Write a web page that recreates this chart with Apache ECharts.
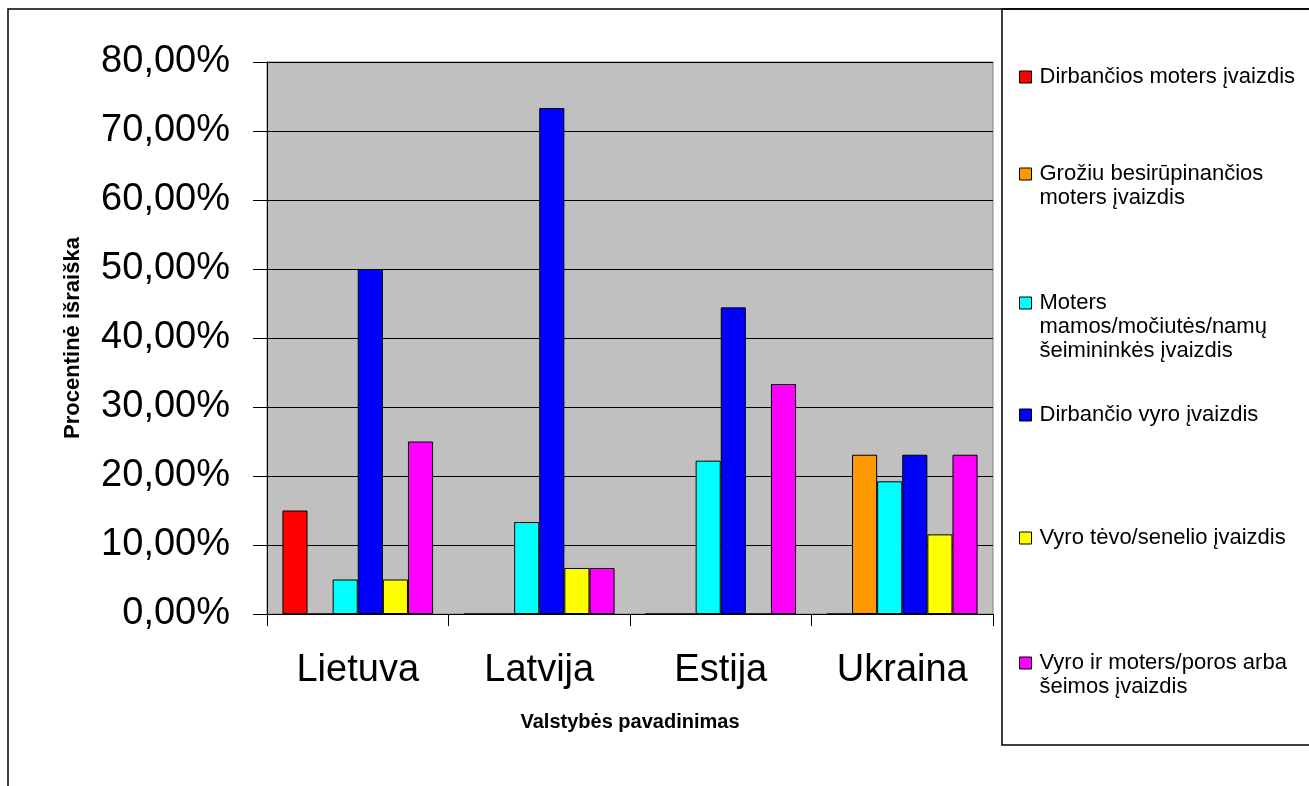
<!DOCTYPE html>
<html>
<head>
<meta charset="utf-8">
<script src="https://cdn.jsdelivr.net/npm/echarts@6/dist/echarts.min.js"></script>
<style>
  html, body { margin: 0; padding: 0; background: #ffffff; }
  #chart { width: 1309px; height: 786px; }
</style>
</head>
<body>
<div id="chart"></div>
<script>
// Countries on the category axis
const categories = ['Lietuva', 'Latvija', 'Estija', 'Ukraina'];

// Series names (one per image type) and their display text in the legend
const seriesNames = [
  'Dirbančios moters įvaizdis',
  'Grožiu besirūpinančios moters įvaizdis',
  'Moters mamos/močiutės/namų šeimininkės įvaizdis',
  'Dirbančio vyro įvaizdis',
  'Vyro tėvo/senelio įvaizdis',
  'Vyro ir moters/poros arba šeimos įvaizdis'
];
const legendLines = [
  ['Dirbančios moters įvaizdis'],
  ['Grožiu besirūpinančios', 'moters įvaizdis'],
  ['Moters', 'mamos/močiutės/namų', 'šeimininkės įvaizdis'],
  ['Dirbančio vyro įvaizdis'],
  ['Vyro tėvo/senelio įvaizdis'],
  ['Vyro ir moters/poros arba', 'šeimos įvaizdis']
];
const seriesColors = ['#FF0000', '#FF9900', '#00FFFF', '#0000FF', '#FFFF00', '#FF00FF'];

// Percentages per country, one array per series
const workingWoman    = [15.00, 0.00, 0.00, 0.00];
const beautyWoman     = [0.00, 0.00, 0.00, 23.08];
const motherHousewife = [5.00, 13.33, 22.22, 19.23];
const workingMan      = [50.00, 73.33, 44.44, 23.08];
const fatherGrandpa   = [5.00, 6.67, 0.00, 11.54];
const coupleFamily    = [25.00, 6.67, 33.33, 23.08];
const seriesValues = [workingWoman, beautyWoman, motherHousewife, workingMan, fatherGrandpa, coupleFamily];

// Value-axis tick labels (0 .. 80 in steps of 10)
const yTickLabels = ['0,00%', '10,00%', '20,00%', '30,00%', '40,00%', '50,00%', '60,00%', '70,00%', '80,00%'];

const FONT = "'Liberation Sans', Arial, sans-serif";
const LEGEND_LINE = 24;
const legendIconCenters = [77, 174, 303, 415, 538, 663];

const chart = echarts.init(document.getElementById('chart'), null, { renderer: 'canvas' });

// One legend block per entry; blank leading lines keep the icon level with
// the first text line, as the text block is centred on the icon.
const legends = seriesNames.map((name, i) => {
  const n = legendLines[i].length;
  const total = (2 * n - 1) * LEGEND_LINE;
  const text = new Array(n - 1).fill('').concat(legendLines[i]).join('\n');
  return {
    orient: 'vertical',
    left: 1019,
    top: legendIconCenters[i] - total / 2,
    padding: 0,
    itemWidth: 12,
    itemHeight: 12,
    itemGap: 0,
    icon: 'rect',
    selectedMode: false,
    data: [name],
    formatter: () => text,
    itemStyle: { borderColor: '#000', borderWidth: 1 },
    textStyle: {
      fontFamily: FONT,
      fontSize: 22,
      color: '#000',
      lineHeight: LEGEND_LINE,
      padding: [0, 0, 0, 3]
    }
  };
});

const series = seriesNames.map((name, i) => ({
  name: name,
  type: 'bar',
  data: seriesValues[i],
  barGap: '0%',
  barCategoryGap: '17%',
  itemStyle: { color: seriesColors[i], borderColor: '#000', borderWidth: 1 },
  emphasis: { disabled: true }
}));

chart.setOption({
  animation: false,
  backgroundColor: '#ffffff',
  graphic: [
    {
      type: 'rect',
      shape: { x: 8, y: 9, width: 1320, height: 800 },
      style: { fill: 'none', stroke: '#000', lineWidth: 1.5 },
      z: 100
    },
    {
      type: 'rect',
      shape: { x: 1002, y: 9, width: 320, height: 736 },
      style: { fill: 'none', stroke: '#000', lineWidth: 1.5 },
      z: 100
    }
  ],
  legend: legends,
  grid: {
    left: 267, right: 316, top: 62, bottom: 172,
    show: true,
    backgroundColor: '#C0C0C0',
    borderColor: '#808080',
    borderWidth: 1
  },
  xAxis: {
    type: 'category',
    data: categories,
    name: 'Valstybės pavadinimas',
    nameLocation: 'middle',
    nameGap: 98,
    nameTextStyle: { fontFamily: FONT, fontSize: 20, fontWeight: 'bold', color: '#000' },
    axisLine: { lineStyle: { color: '#000', width: 1 } },
    axisTick: { show: true, length: 12, lineStyle: { color: '#000' } },
    axisLabel: { fontFamily: FONT, fontSize: 38, color: '#000', margin: 38 },
    splitLine: { show: false }
  },
  yAxis: {
    type: 'value',
    min: 0,
    max: 80,
    interval: 10,
    name: 'Procentinė išraiška',
    nameLocation: 'middle',
    nameRotate: 90,
    nameGap: 183,
    nameTextStyle: { fontFamily: FONT, fontSize: 22, fontWeight: 'bold', color: '#000' },
    axisLine: { show: true, lineStyle: { color: '#000', width: 1 } },
    axisTick: { show: true, length: 14, lineStyle: { color: '#000' } },
    axisLabel: {
      fontFamily: FONT, fontSize: 38, color: '#000', margin: 37,
      formatter: (v) => yTickLabels[Math.round(v / 10)]
    },
    splitLine: { show: true, lineStyle: { color: '#000', width: 1 } }
  },
  series: series
});
</script>
</body>
</html>
